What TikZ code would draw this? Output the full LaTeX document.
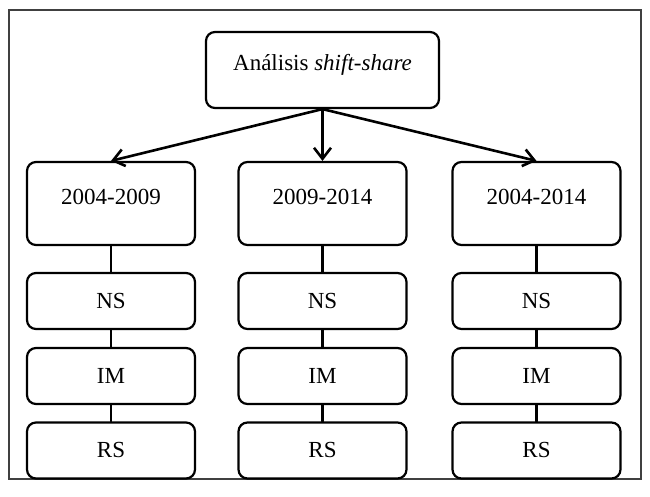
\documentclass[tikz,border=0pt]{standalone}
\usepackage{fontspec}
\setmainfont{Liberation Serif}
\usetikzlibrary{arrows.meta}
\begin{document}
\begin{tikzpicture}
% TikZ diagram of the shift-share analysis
\def\unitsz{0.5pt}
\providecommand{\ssLineColor}{black}
\providecommand{\ssFrameColor}{black!75}
\providecommand{\ssLineWidth}{1.1pt}
\providecommand{\ssArrowWidth}{1.3pt}
\providecommand{\ssBoxRadius}{4.5pt}
\tikzset{
  ssbox/.style={rectangle, draw=\ssLineColor, line width=\ssLineWidth, rounded corners=\ssBoxRadius, inner sep=0pt, font=\fontsize{11.5}{14}\selectfont},
  periodbox/.style={ssbox, minimum width=84pt, text height=21.25pt, text depth=20.25pt},
  termbox/.style={ssbox, minimum width=84pt, minimum height=28pt},
  ssarrow/.style={draw=\ssLineColor, line width=\ssArrowWidth, -{Straight Barb[length=5.5pt,width=8.5pt]}},
  ssline/.style={draw=\ssLineColor, line width=\ssLineWidth}
}
\begin{scope}[x=\unitsz, y=-\unitsz, line cap=round, line join=round]
  \useasboundingbox (0,0) rectangle (650,497);
  % Outer frame
  \draw[draw=\ssFrameColor, line width=0.8pt, line join=miter] (9,10) rectangle (641,479);
  % Top node
  \node[ssbox, minimum width=116.5pt, text height=19.25pt, text depth=18.75pt] (root) at (322.5,70) {Análisis \textit{shift-share}};
  % Periods
  \node[periodbox] (pa) at (111,203.5) {2004-2009};
  \node[periodbox] (pb) at (322.5,203.5) {2009-2014};
  \node[periodbox] (pc) at (536.5,203.5) {2004-2014};
  % Components, first column
  \node[termbox] (nsa) at (111,301) {NS};
  \node[termbox] (ima) at (111,376) {IM};
  \node[termbox] (rsa) at (111,450.5) {RS};
  % Components, second column
  \node[termbox] (nsb) at (322.5,301) {NS};
  \node[termbox] (imb) at (322.5,376) {IM};
  \node[termbox] (rsb) at (322.5,450.5) {RS};
  % Components, third column
  \node[termbox] (nsc) at (536.5,301) {NS};
  \node[termbox] (imc) at (536.5,376) {IM};
  \node[termbox] (rsc) at (536.5,450.5) {RS};
  % Arrows
  \draw[ssarrow] (root.south) -- (pa.north);
  \draw[ssarrow] (root.south) -- (pb.north);
  \draw[ssarrow] (root.south) -- (pc.north);
  % Vertical links
  \draw[ssline] (pa) -- (nsa);
  \draw[ssline] (nsa) -- (ima);
  \draw[ssline] (ima) -- (rsa);
  \draw[ssline] (pb) -- (nsb);
  \draw[ssline] (nsb) -- (imb);
  \draw[ssline] (imb) -- (rsb);
  \draw[ssline] (pc) -- (nsc);
  \draw[ssline] (nsc) -- (imc);
  \draw[ssline] (imc) -- (rsc);
\end{scope}
\end{tikzpicture}
\end{document}
